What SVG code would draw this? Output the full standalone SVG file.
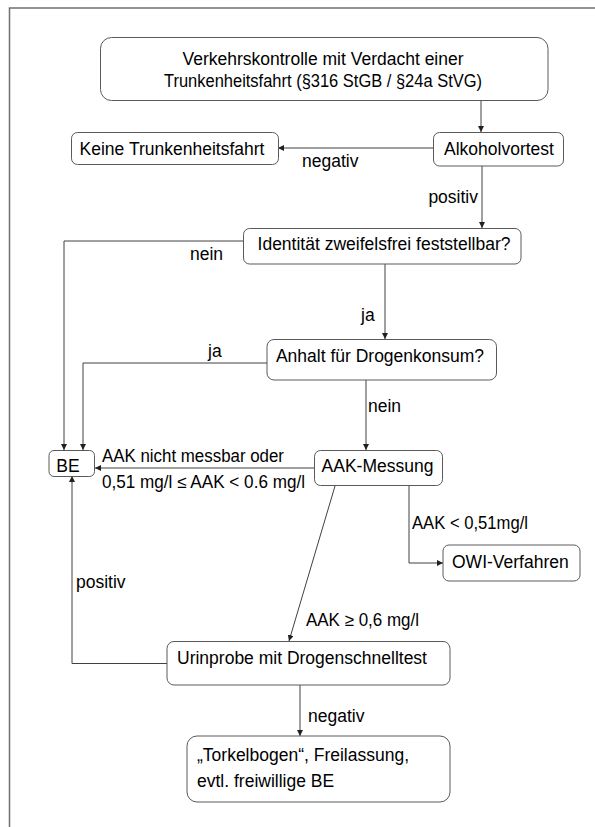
<svg xmlns="http://www.w3.org/2000/svg" width="595" height="827" viewBox="0 0 595 827">
<style>
.box{fill:#fff;stroke:#5a5a5a;stroke-width:1}
.t{font-family:"Liberation Sans",Arial,sans-serif;font-size:17.5px;fill:#000}
.m{text-anchor:middle}
.e{text-anchor:end}
.c{fill:none;stroke:#404040;stroke-width:1;marker-end:url(#ah)}
.frame{fill:none;stroke:#707070;stroke-width:1.5}
</style>
<defs>
<marker id="ah" markerUnits="userSpaceOnUse" markerWidth="7" markerHeight="6" refX="6" refY="3" orient="auto">
<path d="M0,0 L6,3 L0,6 z" fill="#202020"/>
</marker>
</defs>
<rect width="595" height="827" fill="#fff"/>
<path class="frame" d="M9.5,827 V8 H595"/>

<g id="connectors">
<path class="c" d="M481,101 V132"/>
<path class="c" d="M433,148 H278"/>
<path class="c" d="M482,166 V228"/>
<path class="c" d="M243,241 H64 V450"/>
<path class="c" d="M385,264 V339"/>
<path class="c" d="M267,363 H83 V450"/>
<path class="c" d="M366,380 V450"/>
<path class="c" d="M314,468 H95"/>
<path class="c" d="M409,486 V563 H443"/>
<path class="c" d="M335,486 L289,641"/>
<path class="c" d="M167,663.5 H72 V476"/>
<path class="c" d="M300,685 V736"/>
<text class="t" x="302" y="167">negativ</text>
<text class="t e" x="478" y="203">positiv</text>
<text class="t" x="190" y="260">nein</text>
<text class="t" x="361" y="321">ja</text>
<text class="t" x="208" y="357">ja</text>
<text class="t" x="368" y="412">nein</text>
<text class="t" x="102" y="462" textLength="182" lengthAdjust="spacingAndGlyphs">AAK nicht messbar oder</text>
<text class="t" x="102" y="488" textLength="203" lengthAdjust="spacingAndGlyphs">0,51 mg/l ≤ AAK &lt; 0.6 mg/l</text>
<text class="t" x="412" y="529" textLength="116" lengthAdjust="spacingAndGlyphs">AAK &lt; 0,51mg/l</text>
<text class="t" x="306" y="626" textLength="113" lengthAdjust="spacingAndGlyphs">AAK ≥ 0,6 mg/l</text>
<text class="t" x="76" y="588">positiv</text>
<text class="t" x="308" y="722">negativ</text>
</g>

<g id="start">
<rect class="box" x="100.5" y="37.5" width="447.5" height="63" rx="11"/>
<text class="t m" x="323" y="65">Verkehrskontrolle mit Verdacht einer</text>
<text class="t m" x="323" y="87" textLength="318" lengthAdjust="spacingAndGlyphs">Trunkenheitsfahrt (§316 StGB / §24a StVG)</text>
</g>
<g id="keine">
<rect class="box" x="71.5" y="132.5" width="207" height="32" rx="6"/>
<text class="t m" x="172" y="155">Keine Trunkenheitsfahrt</text>
</g>
<g id="vortest">
<rect class="box" x="433.5" y="132.5" width="130" height="33.5" rx="6"/>
<text class="t m" x="499" y="155">Alkoholvortest</text>
</g>
<g id="identitaet">
<rect class="box" x="243.5" y="228.5" width="277.5" height="35.5" rx="6"/>
<text class="t m" x="384" y="250">Identität zweifelsfrei feststellbar?</text>
</g>
<g id="anhalt">
<rect class="box" x="267" y="339.5" width="229.5" height="40.5" rx="7"/>
<text class="t m" x="380" y="362">Anhalt für Drogenkonsum?</text>
</g>
<g id="be">
<rect class="box" x="49" y="450.5" width="45.5" height="26" rx="5"/>
<text class="t m" x="68" y="472">BE</text>
</g>
<g id="aak">
<rect class="box" x="314.5" y="450.5" width="128" height="35" rx="6"/>
<text class="t m" x="377.5" y="472">AAK-Messung</text>
</g>
<g id="owi">
<rect class="box" x="443" y="545" width="137" height="36" rx="6"/>
<text class="t" x="452" y="568">OWI-Verfahren</text>
</g>
<g id="urin">
<rect class="box" x="167" y="641.5" width="283" height="43.5" rx="7"/>
<text class="t" x="177" y="664">Urinprobe mit Drogenschnelltest</text>
</g>
<g id="torkel">
<rect class="box" x="187" y="736" width="263" height="66" rx="10"/>
<text class="t" x="197" y="761">„Torkelbogen“, Freilassung,</text>
<text class="t" x="197" y="787">evtl. freiwillige BE</text>
</g>
</svg>
